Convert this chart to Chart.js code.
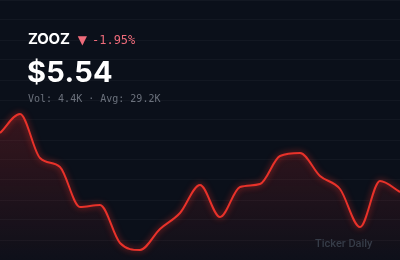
<!DOCTYPE html>
<html>
<head>
<meta charset="utf-8">
<script src="https://cdn.jsdelivr.net/npm/chart.js@4/dist/chart.umd.min.js"></script>
<style>
  html, body { margin: 0; padding: 0; background: #0b101a; }
  .wrap { position: relative; width: 400px; height: 260px; overflow: hidden; }
  canvas { position: absolute; left: 0; top: 0; }
  .hdr { position: absolute; left: 28px; top: 29px; color: #fff; white-space: nowrap; }
  .sym { font: 700 15px "Inter", "DejaVu Sans", sans-serif; letter-spacing: -0.2px; }
  .chg { font: 500 12px "DejaVu Sans Mono", monospace; color: #ee6b7a; margin-left: 5px; }
  .tri { color: #ee6b7a; font: 12px "DejaVu Sans", sans-serif; margin-left: 8px; }
  .price { position: absolute; left: 27px; top: 54px; color: #fff; font: 700 29px "Inter", "DejaVu Sans", sans-serif; letter-spacing: 0.3px; }
  .vol { position: absolute; left: 28px; top: 93px; color: #6b717c; font: 400 10px "DejaVu Sans Mono", monospace; }
  .brand { position: absolute; left: 315px; top: 237px; color: #363c48; font: 500 11px "Roboto", sans-serif; }
</style>
</head>
<body>
<div class="wrap">
  <canvas id="c" width="400" height="260"></canvas>
  <div class="hdr"><span class="sym">ZOOZ</span><span class="tri">▼</span><span class="chg">-1.95%</span></div>
  <div class="price">$5.54</div>
  <div class="vol">Vol: 4.4K · Avg: 29.2K</div>
  <div class="brand">Ticker Daily</div>
</div>
<script>
// daily closes
const days = ["1","2","3","4","5","6","7","8","9","10","11","12","13","14","15","16","17","18","19","20","21"];
const closes = [5.835, 5.93, 5.71, 5.665, 5.465, 5.475, 5.285, 5.25, 5.355, 5.435, 5.575,
                5.415, 5.565, 5.58, 5.72, 5.735, 5.62, 5.555, 5.365, 5.595, 5.54];
const yMin = 5.2, yMax = 6.5;

const glow = {
  id: "glow",
  beforeDatasetDraw(chart) {
    const ctx = chart.ctx;
    ctx.save();
    ctx.shadowColor = "rgba(255,50,40,0.7)";
    ctx.shadowBlur = 6;
  },
  afterDatasetDraw(chart) {
    chart.ctx.restore();
  }
};

new Chart(document.getElementById("c"), {
  type: "line",
  data: {
    labels: days,
    datasets: [{
      data: closes,
      borderColor: "#e8322a",
      borderWidth: 2,
      pointRadius: 0,
      cubicInterpolationMode: "monotone",
      fill: "start",
      backgroundColor: (c) => {
        const a = c.chart.chartArea;
        if (!a) return "rgba(230,50,50,0.1)";
        const g = c.chart.ctx.createLinearGradient(0, a.top + 110, 0, a.bottom);
        g.addColorStop(0, "rgba(200,40,40,0.24)");
        g.addColorStop(1, "rgba(200,40,40,0.02)");
        return g;
      }
    }]
  },
  options: {
    responsive: false,
    animation: false,
    layout: { padding: 0 },
    plugins: { legend: { display: false }, tooltip: { enabled: false } },
    scales: {
      x: { display: false, offset: false },
      y: {
        min: yMin, max: yMax,
        ticks: { display: false, stepSize: 0.1 },
        border: { display: false },
        grid: { color: "rgba(255,255,255,0.035)", drawTicks: false }
      }
    }
  },
  plugins: [glow]
});
</script>
</body>
</html>
